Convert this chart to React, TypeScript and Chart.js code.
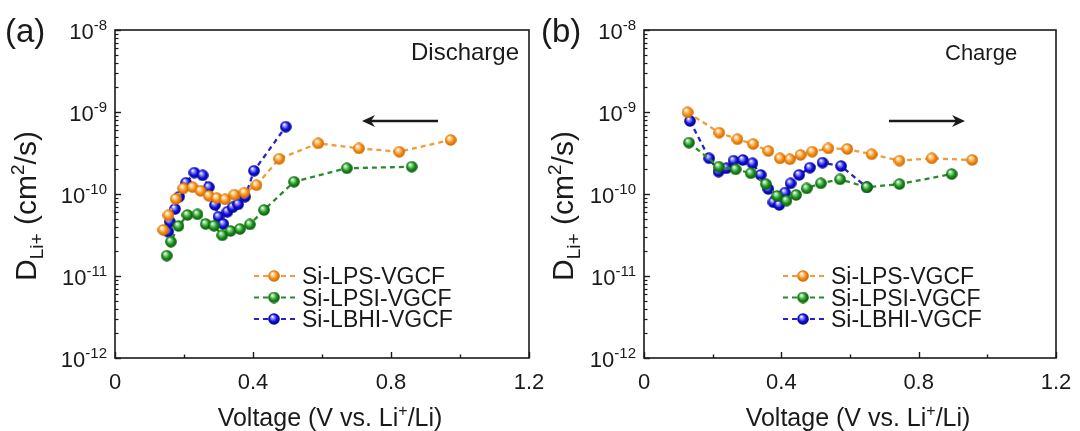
import React, { useEffect, useRef } from 'react';
import { Chart, registerables } from 'chart.js';

Chart.register(...registerables);

// ---------------- DATA ----------------
const SERIES_NAMES = ['Si-LPS-VGCF', 'Si-LPSI-VGCF', 'Si-LBHI-VGCF'];

// (a) Discharge
const disLpsV = [0.14, 0.155, 0.176, 0.198, 0.225, 0.248, 0.272, 0.295, 0.319, 0.346, 0.375, 0.41, 0.476, 0.589, 0.707, 0.824, 0.973];
const disLpsD = [3.64e-11, 5.5e-11, 8.7e-11, 1.17e-10, 1.21e-10, 1.09e-10, 9.5e-11, 8.9e-11, 8.6e-11, 9.8e-11, 1.04e-10, 1.28e-10, 2.69e-10, 4.15e-10, 3.6e-10, 3.28e-10, 4.56e-10];

const disLpsiV = [0.15, 0.162, 0.184, 0.21, 0.239, 0.263, 0.287, 0.311, 0.335, 0.362, 0.391, 0.432, 0.519, 0.672, 0.86];
const disLpsiD = [1.77e-11, 2.62e-11, 4.07e-11, 5.55e-11, 5.65e-11, 4.3e-11, 4.1e-11, 3.13e-11, 3.54e-11, 3.74e-11, 4.26e-11, 6.38e-11, 1.41e-10, 2.06e-10, 2.15e-10];

const disLbhiV = [0.154, 0.159, 0.174, 0.186, 0.206, 0.23, 0.254, 0.272, 0.29, 0.3, 0.314, 0.326, 0.341, 0.357, 0.377, 0.403, 0.495];
const disLbhiD = [3.47e-11, 4.59e-11, 6.56e-11, 9.27e-11, 1.37e-10, 1.82e-10, 1.69e-10, 1.21e-10, 7.35e-11, 5.28e-11, 4.3e-11, 6.08e-11, 6.89e-11, 7.48e-11, 9.27e-11, 1.92e-10, 6.62e-10];

// (b) Charge
const chgLpsV = [0.127, 0.219, 0.272, 0.318, 0.362, 0.396, 0.425, 0.456, 0.49, 0.537, 0.592, 0.663, 0.744, 0.838, 0.956];
const chgLpsD = [9.9e-10, 5.6e-10, 4.65e-10, 4.07e-10, 3.34e-10, 2.72e-10, 2.65e-10, 2.99e-10, 3.28e-10, 3.6e-10, 3.54e-10, 3.05e-10, 2.55e-10, 2.72e-10, 2.6e-10];

const chgLpsiV = [0.131, 0.218, 0.267, 0.311, 0.355, 0.388, 0.415, 0.443, 0.474, 0.515, 0.571, 0.649, 0.744, 0.896];
const chgLpsiD = [4.23e-10, 2.15e-10, 2.0e-10, 1.79e-10, 1.32e-10, 9.46e-11, 8.28e-11, 9.73e-11, 1.17e-10, 1.35e-10, 1.51e-10, 1.21e-10, 1.32e-10, 1.75e-10];

const chgLbhiV = [0.134, 0.19, 0.217, 0.24, 0.261, 0.288, 0.316, 0.34, 0.362, 0.377, 0.394, 0.411, 0.427, 0.452, 0.483, 0.52, 0.574, 0.649];
const chgLbhiD = [7.76e-10, 2.72e-10, 1.87e-10, 2.06e-10, 2.55e-10, 2.6e-10, 2.37e-10, 1.71e-10, 1.15e-10, 7.92e-11, 7.35e-11, 1.04e-10, 1.35e-10, 1.71e-10, 2.09e-10, 2.41e-10, 2.19e-10, 1.21e-10];

// axes
const X_MIN = 0;
const X_MAX = 1.2;
const X_MAJOR = [0, 0.4, 0.8, 1.2];
const X_TICK_LABELS = ['0', '0.4', '0.8', '1.2'];
const X_MINOR = [0.2, 0.6, 1.0];
const Y_DECADES = [-12, -11, -10, -9, -8];
const Y_MIN = 1e-12;
const Y_MAX = 1e-8;

// ---------------- STYLE ----------------
const FONT = '"Liberation Sans", Arial, Helvetica, sans-serif';
const INK = '#1a1a1a';

const SERIES_STYLE = [
  { line: '#f39a3a', base: '#f78c12', light: '#ffd9a0', dark: '#c06200' },
  { line: '#2a8a2a', base: '#1c8c1c', light: '#8fe08f', dark: '#075507' },
  { line: '#2424c4', base: '#0e0ee0', light: '#9a9aff', dark: '#00007a' },
];

function makeBall(s: { base: string; light: string; dark: string }, d = 12) {
  const c = document.createElement('canvas');
  c.width = d;
  c.height = d;
  const g = c.getContext('2d')!;
  const r = d / 2;
  const grad = g.createRadialGradient(r * 0.7, r * 0.6, r * 0.05, r, r, r);
  grad.addColorStop(0, '#ffffff');
  grad.addColorStop(0.22, s.light);
  grad.addColorStop(0.6, s.base);
  grad.addColorStop(1, s.dark);
  g.fillStyle = grad;
  g.beginPath();
  g.arc(r, r, r - 0.2, 0, Math.PI * 2);
  g.fill();
  return c;
}

type Seg = { t: string; size: number; dy?: number };

function segWidth(ctx: CanvasRenderingContext2D, segs: Seg[]) {
  let w = 0;
  for (const s of segs) {
    ctx.font = `${s.size}px ${FONT}`;
    w += ctx.measureText(s.t).width;
  }
  return w;
}

function drawRich(ctx: CanvasRenderingContext2D, segs: Seg[], x: number, y: number, align: 'left' | 'center' | 'right') {
  const w = segWidth(ctx, segs);
  let cx = align === 'left' ? x : align === 'center' ? x - w / 2 : x - w;
  ctx.textAlign = 'left';
  ctx.textBaseline = 'alphabetic';
  for (const s of segs) {
    ctx.font = `${s.size}px ${FONT}`;
    ctx.fillText(s.t, cx, y + (s.dy || 0));
    cx += ctx.measureText(s.t).width;
  }
}

function drawArrow(ctx: CanvasRenderingContext2D, x1: number, x2: number, y: number) {
  const dir = x2 > x1 ? 1 : -1;
  ctx.strokeStyle = INK;
  ctx.fillStyle = INK;
  ctx.lineWidth = 2.6;
  ctx.beginPath();
  ctx.moveTo(x1, y);
  ctx.lineTo(x2 - dir * 6, y);
  ctx.stroke();
  ctx.beginPath();
  ctx.moveTo(x2, y);
  ctx.lineTo(x2 - dir * 13, y - 6);
  ctx.lineTo(x2 - dir * 9, y);
  ctx.lineTo(x2 - dir * 13, y + 6);
  ctx.closePath();
  ctx.fill();
}

const decorPlugin = {
  id: 'decor',
  afterDraw(chart: any, _args: any, opts: any) {
    const { ctx, chartArea: ca, scales } = chart;
    const xs = scales.x;
    const ys = scales.y;
    ctx.save();
    ctx.strokeStyle = INK;
    ctx.fillStyle = INK;

    // frame
    ctx.lineWidth = 1.6;
    ctx.strokeRect(ca.left, ca.top, ca.right - ca.left, ca.bottom - ca.top);

    // x ticks (inward)
    ctx.lineWidth = 1.4;
    for (const v of X_MAJOR) {
      const px = Math.round(xs.getPixelForValue(v)) + 0.5;
      ctx.beginPath();
      ctx.moveTo(px, ca.bottom);
      ctx.lineTo(px, ca.bottom - 6);
      ctx.stroke();
    }
    for (const v of X_MINOR) {
      const px = Math.round(xs.getPixelForValue(v)) + 0.5;
      ctx.beginPath();
      ctx.moveTo(px, ca.bottom);
      ctx.lineTo(px, ca.bottom - 3.5);
      ctx.stroke();
    }
    // x tick labels
    ctx.font = `22px ${FONT}`;
    ctx.textAlign = 'center';
    ctx.textBaseline = 'alphabetic';
    X_MAJOR.forEach((v, i) => {
      ctx.fillText(X_TICK_LABELS[i], xs.getPixelForValue(v), ca.bottom + 31);
    });

    // y ticks (inward)
    ctx.lineWidth = 1.2;
    for (let e = -12; e < -8; e++) {
      for (let m = 2; m <= 9; m++) {
        const py = Math.round(ys.getPixelForValue(m * Math.pow(10, e))) + 0.5;
        ctx.beginPath();
        ctx.moveTo(ca.left, py);
        ctx.lineTo(ca.left + 3.5, py);
        ctx.stroke();
      }
    }
    ctx.lineWidth = 1.4;
    for (const e of Y_DECADES) {
      const py = Math.round(ys.getPixelForValue(Math.pow(10, e))) + 0.5;
      ctx.beginPath();
      ctx.moveTo(ca.left, py);
      ctx.lineTo(ca.left + 6, py);
      ctx.stroke();
      drawRich(ctx, [{ t: '10', size: 22 }, { t: String(e), size: 15, dy: -9 }], ca.left - 8, py + 8, 'right');
    }

    // axis titles
    const xc = (ca.left + ca.right) / 2 + opts.xTitleDx;
    drawRich(
      ctx,
      [
        { t: 'Voltage (V vs. Li', size: 25 },
        { t: '+', size: 16, dy: -10 },
        { t: '/Li)', size: 25 },
      ],
      xc,
      ca.bottom + 68,
      'center'
    );
    ctx.save();
    ctx.translate(opts.yTitleX, (ca.top + ca.bottom) / 2 + 12);
    ctx.rotate(-Math.PI / 2);
    drawRich(
      ctx,
      [
        { t: 'D', size: 30 },
        { t: 'Li+', size: 19, dy: 7 },
        { t: ' (cm', size: 30 },
        { t: '2', size: 19, dy: -12 },
        { t: '/s)', size: 30 },
      ],
      0,
      0,
      'center'
    );
    ctx.restore();

    // panel letter
    ctx.font = `33px ${FONT}`;
    ctx.textAlign = 'left';
    ctx.fillText(opts.letter, opts.letterX, 42);

    // mode text
    ctx.font = `${opts.modeSize}px ${FONT}`;
    ctx.fillText(opts.mode, ca.left + opts.modeDx, ca.top + 30);

    // arrow
    drawArrow(ctx, ca.left + opts.arrowFrom, ca.left + opts.arrowTo, ca.top + 91);

    // legend
    const rows = [ca.top + 246, ca.top + 267.5, ca.top + 289];
    SERIES_NAMES.forEach((name, i) => {
      const y = rows[i];
      const st = SERIES_STYLE[i];
      ctx.save();
      ctx.strokeStyle = st.line;
      ctx.lineWidth = 2.2;
      ctx.setLineDash([5, 4]);
      ctx.beginPath();
      ctx.moveTo(ca.left + 139, y);
      ctx.lineTo(ca.left + 181, y);
      ctx.stroke();
      ctx.restore();
      const ball = opts.balls[i];
      ctx.drawImage(ball, ca.left + 159 - ball.width / 2, y - ball.height / 2);
      ctx.fillStyle = INK;
      ctx.font = `23px ${FONT}`;
      ctx.textAlign = 'left';
      ctx.fillText(name, ca.left + 187, y + 8);
    });

    ctx.restore();
  },
};

type PanelCfg = {
  letter: string;
  left: number;
  width: number;
  letterX: number;
  mode: string;
  modeDx: number;
  modeSize: number;
  arrowFrom: number;
  arrowTo: number;
  yTitleX: number;
  xTitleDx: number;
  padding: { left: number; right: number; top: number; bottom: number };
  series: { v: number[]; d: number[] }[];
};

const PANELS: PanelCfg[] = [
  {
    letter: '(a)',
    left: 0,
    width: 560,
    letterX: 5,
    mode: 'Discharge',
    modeDx: 296,
    modeSize: 24,
    arrowFrom: 323,
    arrowTo: 247,
    yTitleX: 36,
    xTitleDx: 8,
    padding: { left: 115, right: 31, top: 30, bottom: 73 },
    series: [
      { v: disLpsV, d: disLpsD },
      { v: disLpsiV, d: disLpsiD },
      { v: disLbhiV, d: disLbhiD },
    ],
  },
  {
    letter: '(b)',
    left: 540,
    width: 540,
    letterX: 1,
    mode: 'Charge',
    modeDx: 301,
    modeSize: 22,
    arrowFrom: 245,
    arrowTo: 321,
    yTitleX: 33,
    xTitleDx: 8,
    padding: { left: 104, right: 24, top: 30, bottom: 73 },
    series: [
      { v: chgLpsV, d: chgLpsD },
      { v: chgLpsiV, d: chgLpsiD },
      { v: chgLbhiV, d: chgLbhiD },
    ],
  },
];

const DRAW_ORDER = [2, 1, 3]; // lower drawn on top

function Panel({ cfg }: { cfg: PanelCfg }) {
  const ref = useRef<HTMLCanvasElement>(null);
  useEffect(() => {
    const balls = SERIES_STYLE.map((s) => makeBall(s));
    const chart = new Chart(ref.current!, {
      type: 'line',
      data: {
        datasets: cfg.series.map((s, i) => ({
          label: SERIES_NAMES[i],
          data: s.v.map((x, k) => ({ x, y: s.d[k] })),
          borderColor: SERIES_STYLE[i].line,
          borderWidth: 2.3,
          borderDash: [5, 4],
          pointStyle: balls[i] as any,
          pointRadius: 6,
          pointHoverRadius: 6,
          tension: 0,
          fill: false,
          order: DRAW_ORDER[i],
        })),
      },
      options: {
        responsive: false,
        animation: false,
        devicePixelRatio: 1,
        layout: { padding: cfg.padding },
        scales: {
          x: { type: 'linear', min: X_MIN, max: X_MAX, display: false },
          y: { type: 'logarithmic', min: Y_MIN, max: Y_MAX, display: false },
        },
        plugins: {
          legend: { display: false },
          tooltip: { enabled: false },
          decor: {
            letter: cfg.letter,
            letterX: cfg.letterX,
            mode: cfg.mode,
            modeDx: cfg.modeDx,
            modeSize: cfg.modeSize,
            arrowFrom: cfg.arrowFrom,
            arrowTo: cfg.arrowTo,
            yTitleX: cfg.yTitleX,
            xTitleDx: cfg.xTitleDx,
            balls,
          },
        } as any,
      },
      plugins: [decorPlugin as any],
    });
    return () => chart.destroy();
  }, [cfg]);
  return (
    <canvas
      ref={ref}
      width={cfg.width}
      height={431}
      style={{ position: 'absolute', left: cfg.left, top: 0, width: cfg.width, height: 431, display: 'block' }}
    />
  );
}

export default function App() {
  return (
    <div style={{ position: 'absolute', left: 0, top: 0, width: 1080, height: 431, background: '#fff', overflow: 'hidden' }}>
      {PANELS.map((p) => (
        <Panel key={p.letter} cfg={p} />
      ))}
    </div>
  );
}
